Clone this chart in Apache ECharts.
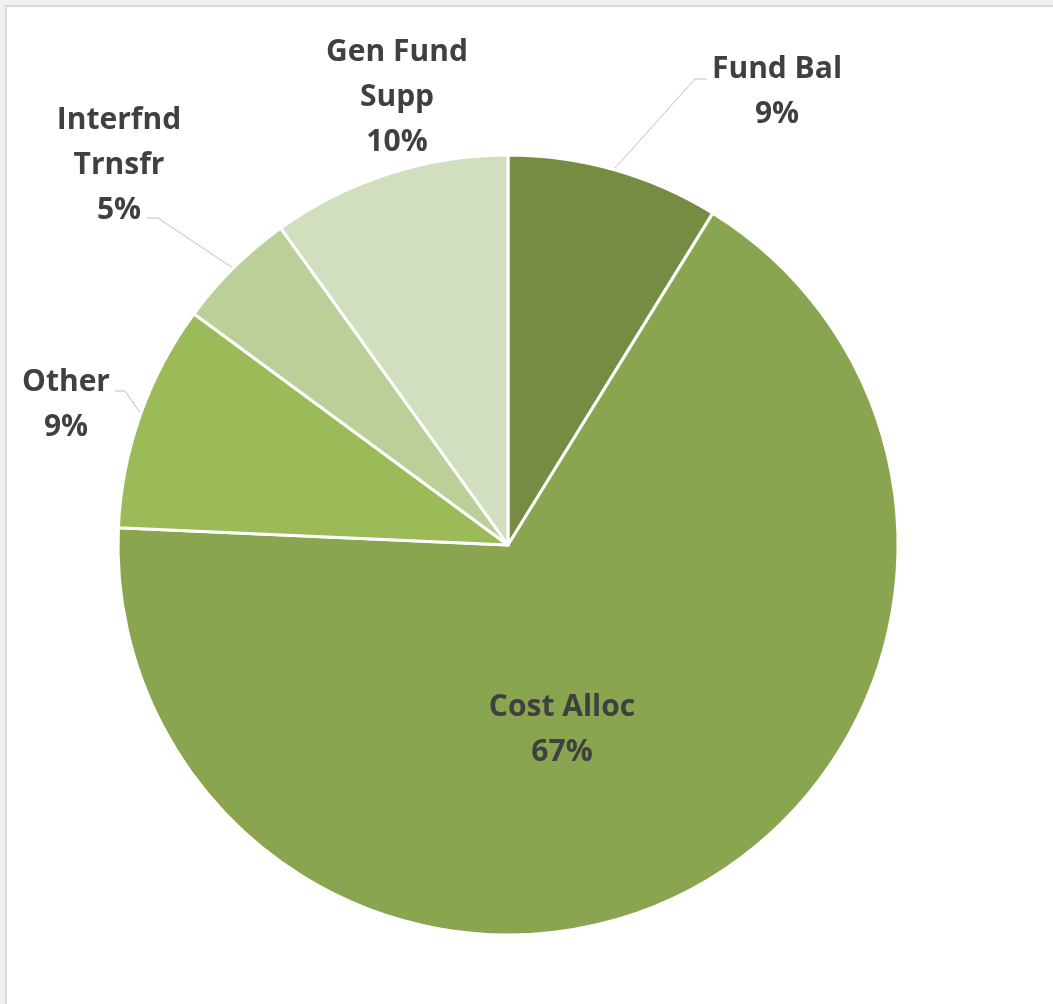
<!DOCTYPE html>
<html>
<head>
<meta charset="utf-8">
<script src="https://cdn.jsdelivr.net/npm/echarts@6/dist/echarts.min.js"></script>
<style>
  html, body { margin: 0; padding: 0; background: #f0f0f0; }
  #frame { position: absolute; left: 5px; top: 5px; width: 1048px; height: 999px; background: #ffffff; border-left: 2px solid #d9d9d9; border-top: 2px solid #d9d9d9; }
  #main { position: absolute; left: 0; top: 0; width: 1053px; height: 1004px; }
</style>
</head>
<body>
<div id="frame"></div>
<div id="main"></div>
<script>
  // slices, clockwise from 12 o'clock (percent shares)
  var names = ['Fund Bal', 'Cost Alloc', 'Other', 'Interfnd\nTrnsfr', 'Gen Fund\nSupp'];
  var values = [8.8, 66.9, 9.4, 5.0, 9.9];
  var colors = ['#758c42', '#8aa54f', '#9bbb59', '#bccf98', '#d2dfbf'];

  // where each label sits (text centre) and its leader line
  var labelPos = [
    {x: 777, y: 92, line: [[615, 168], [695, 79], [707, 79]]},
    {x: 562, y: 730, line: null},
    {x: 66, y: 405, line: [[141, 414], [125, 391], [115, 391]]},
    {x: 119, y: 165, line: [[233, 268], [158, 218], [147, 218]]},
    {x: 397, y: 97, line: null}
  ];

  var myChart = echarts.init(document.getElementById('main'));
  var data = [];
  for (var i = 0; i < names.length; i++) {
    data.push({
      name: names[i],
      value: values[i],
      itemStyle: {color: colors[i]},
      labelLine: {show: labelPos[i].line != null}
    });
  }

  var option = {
    backgroundColor: 'transparent',
    animation: false,
    series: [
      {
        type: 'pie',
        center: [508, 545],
        radius: 390,
        startAngle: 90,
        clockwise: true,
        percentPrecision: 0,
        itemStyle: {borderColor: '#ffffff', borderWidth: 3},
        label: {
          show: true,
          position: 'outside',
          formatter: '{b}\n{d}%',
          color: '#404040',
          fontFamily: 'Open Sans',
          fontWeight: 'bold',
          fontSize: 30,
          lineHeight: 45,
          align: 'center',
          overflow: 'none',
          edgeDistance: 0
        },
        labelLine: {
          lineStyle: {color: '#bfbfbf', width: 1}
        },
        labelLayout: function (params) {
          var p = labelPos[params.dataIndex];
          var res = {x: p.x, y: p.y, align: 'center', verticalAlign: 'middle'};
          if (p.line) res.labelLinePoints = p.line;
          return res;
        },
        data: data
      }
    ]
  };
  myChart.setOption(option);
</script>
</body>
</html>
